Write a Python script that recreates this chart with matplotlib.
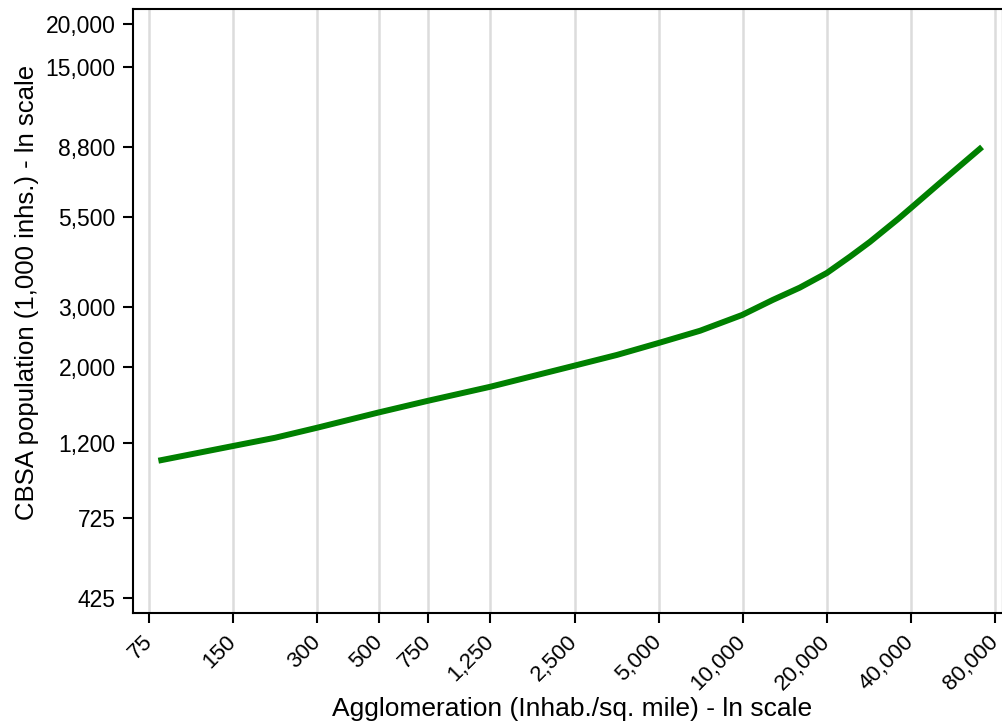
import matplotlib.pyplot as plt
from matplotlib.ticker import FixedLocator, FixedFormatter, NullLocator

plt.rcParams['font.family'] = ['Liberation Sans', 'DejaVu Sans']

# fitted CBSA population against agglomeration density
density = [81, 150, 212, 300, 500, 750, 1250, 2500, 3550, 5000, 7040, 9950,
           12800, 16000, 20000, 24200, 28500, 36000, 40000, 50800, 71900]
population = [1068, 1179, 1246, 1333, 1478, 1598, 1755, 2022, 2173, 2354, 2556, 2841,
              3142, 3413, 3766, 4202, 4638, 5413, 5826, 6893, 8776]

xticks = [75, 150, 300, 500, 750, 1250, 2500, 5000, 10000, 20000, 40000, 80000]
yticks = [425, 725, 1200, 2000, 3000, 5500, 8800, 15000, 20000]

fig = plt.figure(figsize=(10.02, 7.25), dpi=100)
ax = fig.add_axes([133/1002, 1 - 613/725, (1003 - 133)/1002, (613 - 9)/725])

ax.plot(density, population, color='#008000', lw=4.3, solid_capstyle='butt',
        solid_joinstyle='round', zorder=3)

ax.set_xscale('log')
ax.set_yscale('log')
ax.set_xlim(65.7, 85440)
ax.set_ylim(384.2, 22160)

ax.xaxis.set_major_locator(FixedLocator(xticks))
ax.xaxis.set_major_formatter(FixedFormatter([f'{v:,}' for v in xticks]))
ax.xaxis.set_minor_locator(NullLocator())
ax.yaxis.set_major_locator(FixedLocator(yticks))
ax.yaxis.set_major_formatter(FixedFormatter([f'{v:,}' for v in yticks]))
ax.yaxis.set_minor_locator(NullLocator())

ax.grid(axis='x', color='#dcdcdc', lw=1.8)
ax.set_axisbelow(True)

for s in ax.spines.values():
    s.set_linewidth(1.5)
ax.tick_params(axis='both', length=7.5, width=1.5)
ax.tick_params(axis='y', labelsize=16.5, pad=5)
ax.tick_params(axis='x', labelsize=16, pad=11)
plt.setp(ax.get_xticklabels(), rotation=45, ha='right', va='center',
         rotation_mode='anchor')

ax.set_xlabel('Agglomeration (Inhab./sq. mile) - ln scale', fontsize=19, va='baseline')
ax.xaxis.set_label_coords(0.5046, -0.1705)
ax.set_ylabel('CBSA population (1,000 inhs.) - ln scale', fontsize=18.5, va='center')
ax.yaxis.set_label_coords(-0.122, 0.53)

fig.savefig('out.png', dpi=100)
